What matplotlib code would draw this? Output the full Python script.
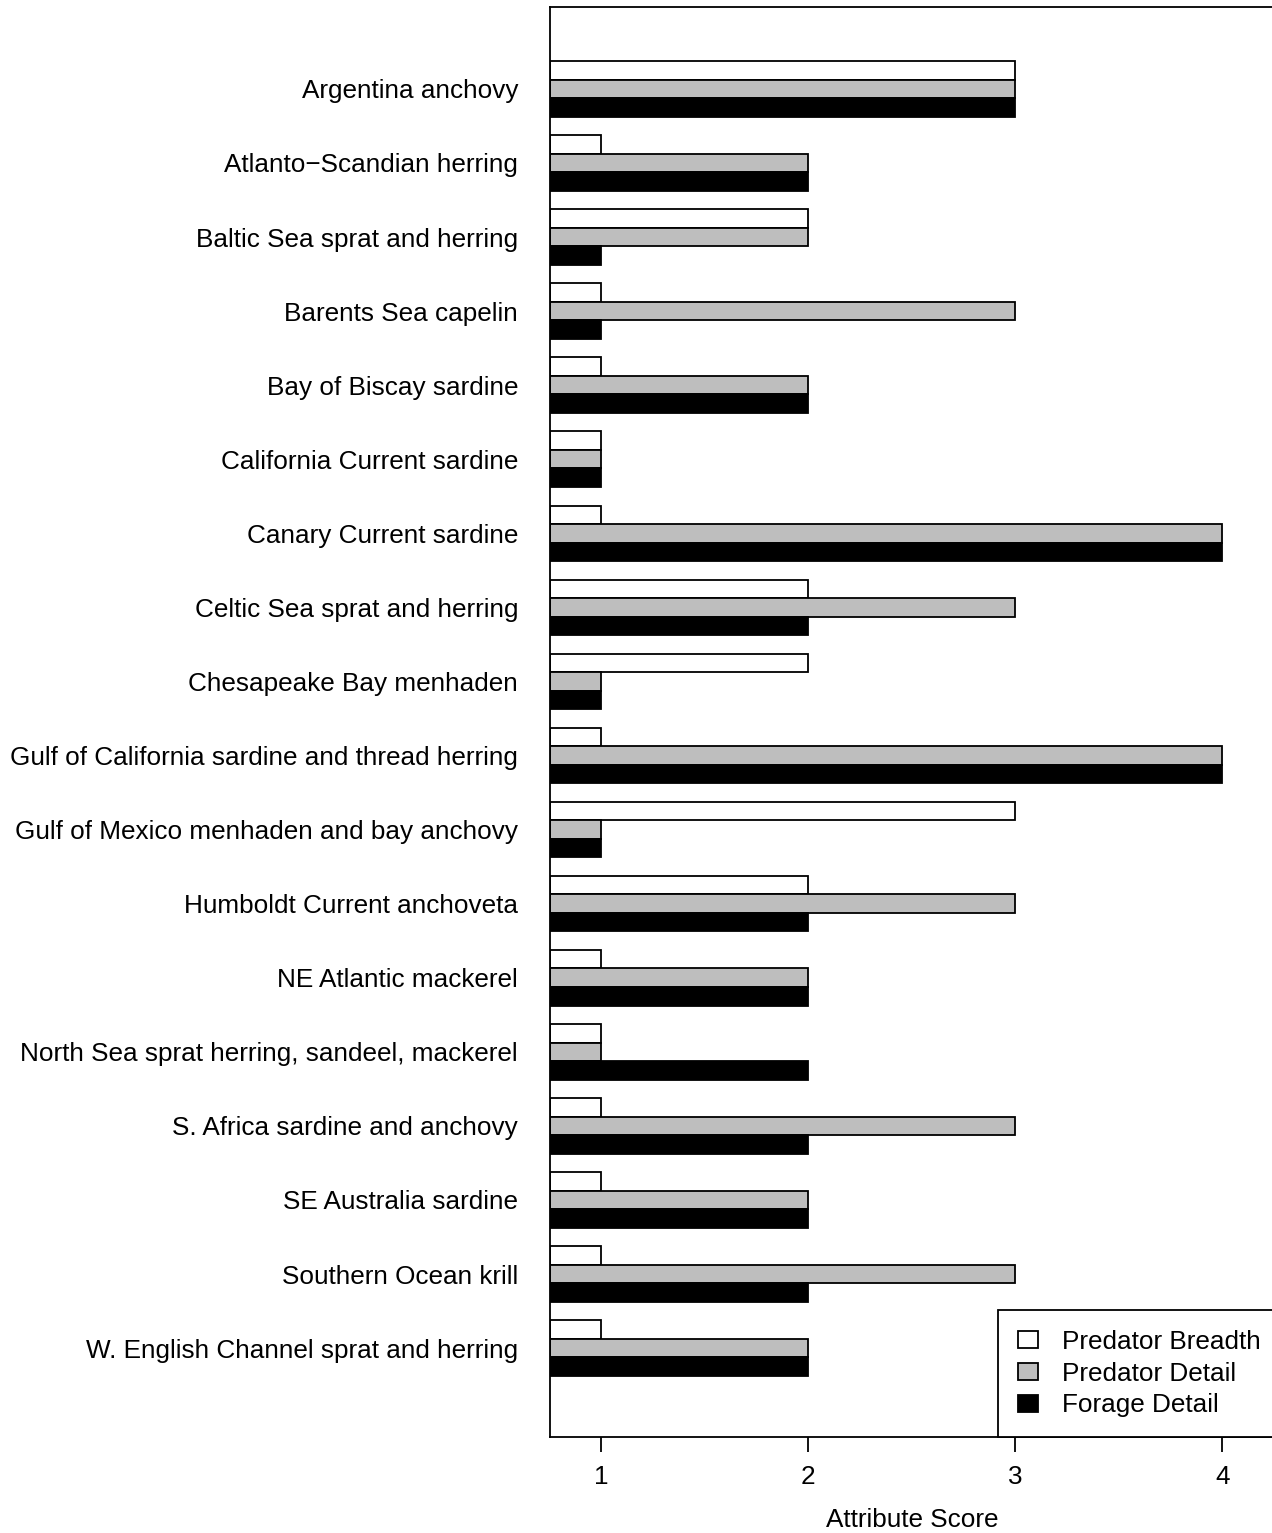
import matplotlib

matplotlib.use("Agg")
import matplotlib.pyplot as plt  # noqa: E402
import numpy as np  # noqa: E402

plt.rcParams["font.family"] = ["Liberation Sans", "DejaVu Sans"]

fisheries = [
    "Argentina anchovy",
    "Atlanto\u2212Scandian herring",
    "Baltic Sea sprat and herring",
    "Barents Sea capelin",
    "Bay of Biscay sardine",
    "California Current sardine",
    "Canary Current sardine",
    "Celtic Sea sprat and herring",
    "Chesapeake Bay menhaden",
    "Gulf of California sardine and thread herring",
    "Gulf of Mexico menhaden and bay anchovy",
    "Humboldt Current anchoveta",
    "NE Atlantic mackerel",
    "North Sea sprat herring, sandeel, mackerel",
    "S. Africa sardine and anchovy",
    "SE Australia sardine",
    "Southern Ocean krill",
    "W. English Channel sprat and herring",
]
predator_breadth = [3, 1, 2, 1, 1, 1, 1, 2, 2, 1, 3, 2, 1, 1, 1, 1, 1, 1]
predator_detail = [3, 2, 2, 3, 2, 1, 4, 3, 1, 4, 1, 3, 2, 1, 3, 2, 3, 2]
forage_detail = [3, 2, 1, 1, 2, 1, 4, 2, 1, 4, 1, 2, 2, 2, 2, 2, 2, 2]

series = [
    ("Predator Breadth", predator_breadth, "white"),
    ("Predator Detail", predator_detail, "#bebebe"),
    ("Forage Detail", forage_detail, "black"),
]

FS = 18.8
W, H = 1272, 1533
fig = plt.figure(figsize=(W / 100, H / 100), dpi=100)
# axes in pixel terms: left 550, right ~1274 (cut off), top 7, bottom 1437
ax = fig.add_axes([550 / W, (H - 1437) / H, (1274 - 550) / W, (1437 - 7) / H])

x0 = 0.754
groups = np.arange(len(fisheries))
for k, (name, vals, color) in enumerate(series):
    centers = 4 * groups + 1.5 + k
    widths = np.array(vals) - x0
    ax.barh(centers, widths, left=x0, height=1.0, color=color,
            edgecolor="black", linewidth=1.3, label=name)

ax.set_xlim(x0, 4.25)
ax.set_ylim(75.3, -1.92)
ax.set_yticks(4 * groups + 2.5)
ax.set_yticklabels(fisheries)
ax.tick_params(axis="y", length=0, pad=23, labelsize=FS)
ax.set_xticks([1, 2, 3, 4])
ax.tick_params(axis="x", length=11, width=1.3, pad=9, labelsize=FS)
ax.set_xlabel("Attribute Score", fontsize=FS, labelpad=14)
for side in ["left", "top", "bottom", "right"]:
    ax.spines[side].set_linewidth(1.3)

leg = ax.legend(loc="lower right", bbox_to_anchor=((1280 - 550) / 724, 0),
                borderaxespad=0, fancybox=False, edgecolor="black",
                framealpha=1, fontsize=FS, handlelength=0.77,
                handleheight=0.6, handletextpad=0.9, borderpad=0.75,
                labelspacing=0.3)
leg.get_frame().set_linewidth(1.3)

fig.savefig("out.png", dpi=100)
